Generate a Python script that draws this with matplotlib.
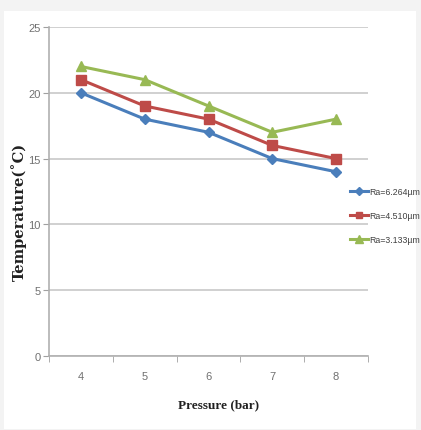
import matplotlib
matplotlib.use("Agg")
import matplotlib.pyplot as plt
from matplotlib.patches import Rectangle

pressure = ["4", "5", "6", "7", "8"]
ra_6264 = [20, 18, 17, 15, 14]
ra_4510 = [21, 19, 18, 16, 15]
ra_3133 = [22, 21, 19, 17, 18]
labels = ["Ra=6.264\u00b5m", "Ra=4.510\u00b5m", "Ra=3.133\u00b5m"]
y_ticks = [0, 5, 10, 15, 20, 25]

tick_font = ["Liberation Sans", "DejaVu Sans"]

fig = plt.figure(figsize=(4.21, 4.31), dpi=100)
fig.patch.set_facecolor("#f3f3f3")
fig.add_artist(Rectangle((4 / 421, 1 / 431), 412 / 421, 418 / 431,
                         transform=fig.transFigure, facecolor="white",
                         edgecolor="none", zorder=0))

ax = fig.add_axes([49 / 421, 74 / 431, 319 / 421, 329 / 431])
ax.set_facecolor("none")

x = list(range(1, len(pressure) + 1))
ax.plot(x, ra_6264, color="#4a7ebb", marker="D", markersize=5.5, linewidth=2.2, label=labels[0])
ax.plot(x, ra_4510, color="#be4b48", marker="s", markersize=6.5, linewidth=2.2, label=labels[1])
ax.plot(x, ra_3133, color="#98b954", marker="^", markersize=7, linewidth=2.2, label=labels[2])

ax.set_xlim(0.5, len(pressure) + 0.5)
ax.set_ylim(0, 25)
ax.set_yticks(y_ticks)
ax.set_xticks(x)
ax.set_xticklabels(pressure)
ax.set_xticks([i + 0.5 for i in range(len(pressure) + 1)], minor=True)
ax.tick_params(axis="x", which="major", length=0, pad=11)
ax.tick_params(axis="x", which="minor", length=4, color="#a0a0a0", direction="out")
ax.tick_params(axis="y", length=4, color="#a0a0a0", direction="out", pad=2)
for lab in ax.get_xticklabels() + ax.get_yticklabels():
    lab.set_family(tick_font)
    lab.set_fontsize(8)
    lab.set_color("#707070")

ax.grid(axis="y", color="#c8c8c8", linewidth=1.2)
ax.set_axisbelow(True)
for side in ["top", "right"]:
    ax.spines[side].set_visible(False)
for side in ["left", "bottom"]:
    ax.spines[side].set_color("#b0b0b0")
    ax.spines[side].set_linewidth(1.2)

ax.set_xlabel("Pressure (bar)", family=["Liberation Serif", "DejaVu Serif"],
              fontweight="bold", fontsize=9.5, color="#202020")
ax.xaxis.set_label_coords(0.533, -0.128)
ax.set_ylabel("Temperature(\u02daC)", family=["DejaVu Serif"],
              fontweight="bold", fontsize=10.5, color="#202020")
ax.yaxis.set_label_coords(-0.068, 0.44)

leg = ax.legend(loc="center left", bbox_to_anchor=(0.945, 0.426), frameon=False,
                prop={"family": tick_font, "size": 6.3}, handlelength=2.0,
                handletextpad=0.1, labelspacing=1.7, borderaxespad=0,
                borderpad=0, markerscale=0.75)
for t in leg.get_texts():
    t.set_color("#404040")

fig.savefig("out.png", dpi=100, facecolor=fig.get_facecolor())
